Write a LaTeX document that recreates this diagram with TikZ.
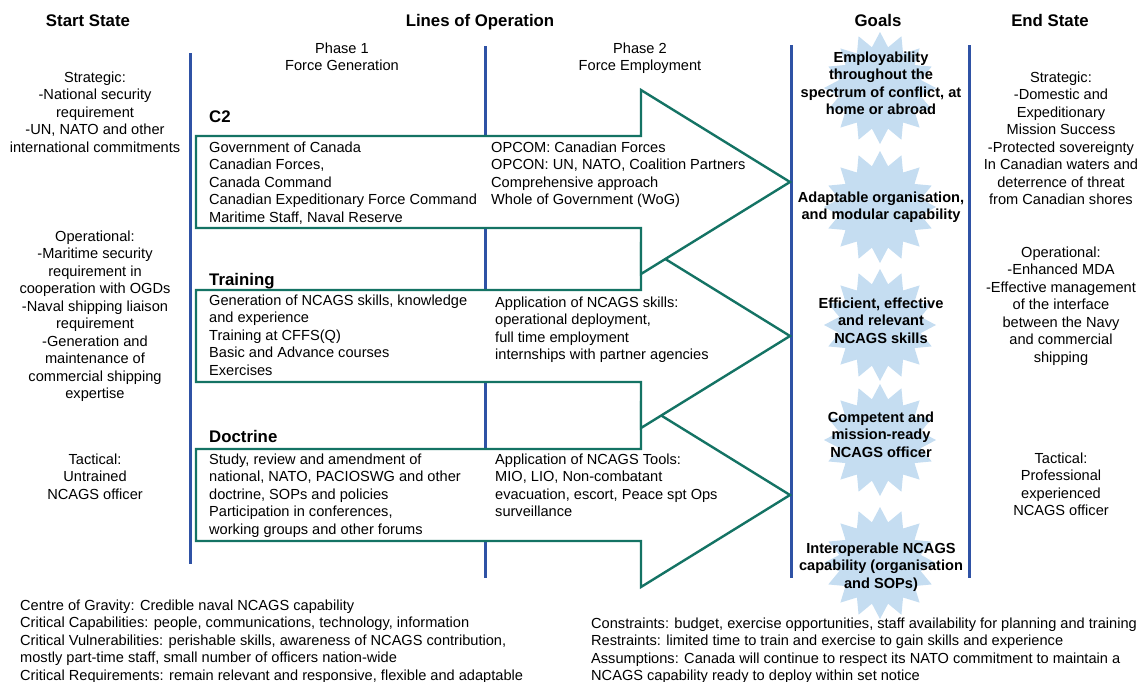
\documentclass[tikz,border=0pt]{standalone}
\usepackage{fontspec}
\setmainfont{Liberation Sans}
\usetikzlibrary{shapes.geometric}

\definecolor{lineblue}{RGB}{47,82,165}
\definecolor{arrowteal}{RGB}{20,115,100}
\definecolor{burstblue}{RGB}{197,221,241}

% stacked lines of text; the block's baseline is that of its first line
\newcommand{\txtblock}[2]{\begin{tabular}[t]{@{}#1@{}}#2\end{tabular}}
\newcommand{\bodyfont}{\fontsize{14.6}{17.5}\selectfont}
\newcommand{\headfont}{\fontsize{16.8}{20}\selectfont\bfseries}

% one line of operation: a block arrow centred on the given y
\newcommand{\lineofop}[1]{%
  \draw[lop] (196,{#1-46}) -- (641,{#1-46}) -- (641,{#1-92}) -- (790,#1)
    -- (641,{#1+92}) -- (641,{#1+46}) -- (196,{#1+46}) -- cycle;}

\tikzset{
  divider/.style={lineblue, line width=3pt},
  lop/.style={draw=arrowteal, line width=2.4pt, fill=white, line join=miter},
  burst/.style={star, star points=16, star point ratio=1.35, minimum size=112pt,
    inner sep=0pt, fill=burstblue, draw=none},
  head/.style={font=\headfont, anchor=base, inner sep=0pt},
  ctext/.style={font=\bodyfont, anchor=base, inner sep=0pt},
  ltext/.style={font=\bodyfont, anchor=base west, inner sep=0pt},
  gtext/.style={font=\bodyfont\bfseries, anchor=base, inner sep=0pt},
}

\begin{document}
\begin{tikzpicture}[x=1pt, y=-1pt]
\useasboundingbox (0,0) rectangle (1141,681);

% column dividers
\coordinate (d1t) at (190,53);  \coordinate (d1b) at (190,564);
\coordinate (d2t) at (485,46);  \coordinate (d2b) at (485,578);
\coordinate (d3t) at (791,45);  \coordinate (d3b) at (791,578);
\coordinate (d4t) at (969,45);  \coordinate (d4b) at (969,578);
\draw[divider] (d1t) -- (d1b);
\draw[divider] (d2t) -- (d2b);
\draw[divider] (d3t) -- (d3b);
\draw[divider] (d4t) -- (d4b);

% lines of operation, bottom one first so the upper heads overlap it
\lineofop{495}
\lineofop{336}
\lineofop{182}

% goal bursts
\node[burst] (b1) at (880,88) {};
\node[burst] (b2) at (880,207) {};
\node[burst] (b3) at (880,325) {};
\node[burst] (b4) at (880,440) {};
\node[burst] (b5) at (880,563) {};

% headings
\node[head] (hStart) at (88,26) {Start State};
\node[head] (hLines) at (480,26) {Lines of Operation};
\node[head] (hGoals) at (878,26) {Goals};
\node[head] (hEnd) at (1050,26) {End State};

\node[ctext] (ph1) at (342,53) {\txtblock{c}{Phase 1\\Force Generation}};
\node[ctext] (ph2) at (640,53) {\txtblock{c}{Phase 2\\Force Employment}};

% start state
\node[ctext] (sStrat) at (95,82) {\txtblock{c}{Strategic:\\-National security\\requirement\\-UN, NATO and other\\international commitments}};
\node[ctext] (sOper) at (95,241) {\txtblock{c}{Operational:\\-Maritime security\\requirement in\\cooperation with OGDs\\-Naval shipping liaison\\requirement\\-Generation and\\maintenance of\\commercial shipping\\expertise}};
\node[ctext] (sTact) at (95,464) {\txtblock{c}{Tactical:\\Untrained\\NCAGS officer}};

% end state
\node[ctext] (eStrat) at (1061,82) {\txtblock{c}{Strategic:\\-Domestic and\\Expeditionary\\Mission Success\\-Protected sovereignty\\In Canadian waters and\\deterrence of threat\\from Canadian shores}};
\node[ctext] (eOper) at (1061,257) {\txtblock{c}{Operational:\\-Enhanced MDA\\-Effective management\\of the interface\\between the Navy\\and commercial\\shipping}};
\node[ctext] (eTact) at (1061,463) {\txtblock{c}{Tactical:\\Professional\\experienced\\NCAGS officer}};

% goals
\node[gtext] (g1) at (881,62) {\txtblock{c}{Employability\\throughout the\\spectrum of conflict, at\\home or abroad}};
\node[gtext] (g2) at (881,202) {\txtblock{c}{Adaptable organisation,\\and modular capability}};
\node[gtext] (g3) at (881,308) {\txtblock{c}{Efficient, effective\\and relevant\\NCAGS skills}};
\node[gtext] (g4) at (881,422) {\txtblock{c}{Competent and\\mission-ready\\NCAGS officer}};
\node[gtext] (g5) at (881,553) {\txtblock{c}{Interoperable NCAGS\\capability (organisation\\and SOPs)}};

% C2
\node[head, anchor=base west] (c2) at (209,122) {C2};
\node[ltext] (c2a) at (209,152) {\txtblock{l}{Government of Canada\\Canadian Forces,\\Canada Command\\Canadian Expeditionary Force Command\\Maritime Staff, Naval Reserve}};
\node[ltext] (c2b) at (491,152) {\txtblock{l}{OPCOM: Canadian Forces\\OPCON: UN, NATO, Coalition Partners\\Comprehensive approach\\Whole of Government (WoG)}};

% Training
\node[head, anchor=base west] (tr) at (209,285) {Training};
\node[ltext] (tra) at (209,305) {\txtblock{l}{Generation of NCAGS skills, knowledge\\and experience\\Training at CFFS(Q)\\Basic and Advance courses\\Exercises}};
\node[ltext] (trb) at (495,307) {\txtblock{l}{Application of NCAGS skills:\\operational deployment,\\full time employment\\internships with partner agencies}};

% Doctrine
\node[head, anchor=base west] (dc) at (209,442) {Doctrine};
\node[ltext] (dca) at (209,464) {\txtblock{l}{Study, review and amendment of\\national, NATO, PACIOSWG and other\\doctrine, SOPs and policies\\Participation in conferences,\\working groups and other forums}};
\node[ltext] (dcb) at (495,464) {\txtblock{l}{Application of NCAGS Tools:\\MIO, LIO, Non-combatant\\evacuation, escort, Peace spt Ops\\surveillance}};

% notes
\node[ltext] (cog) at (20,610) {\txtblock{l}{Centre of Gravity: Credible naval NCAGS capability\\Critical Capabilities: people, communications, technology, information\\Critical Vulnerabilities: perishable skills, awareness of NCAGS contribution,\\mostly part-time staff, small number of officers nation-wide\\Critical Requirements: remain relevant and responsive, flexible and adaptable}};
\node[ltext] (cra) at (591,628) {\txtblock{l}{Constraints: budget, exercise opportunities, staff availability for planning and training\\Restraints: limited time to train and exercise to gain skills and experience\\Assumptions: Canada will continue to respect its NATO commitment to maintain a\\NCAGS capability ready to deploy within set notice}};
\end{tikzpicture}
\end{document}
